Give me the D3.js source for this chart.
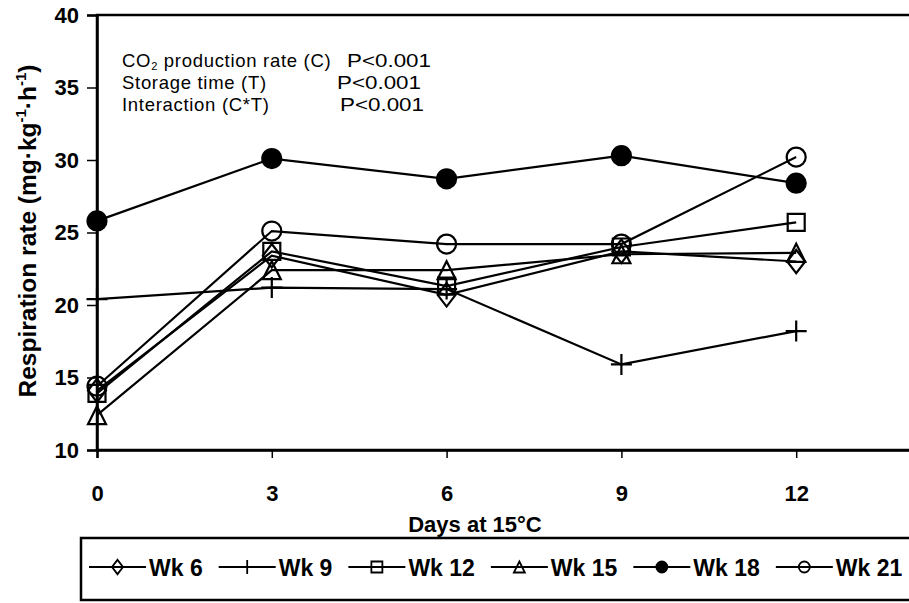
<!DOCTYPE html>
<html>
<head>
<meta charset="utf-8">
<script src="https://cdn.jsdelivr.net/npm/d3@7"></script>
<style>
  body { margin: 0; background: #fff; }
  text { font-family: "Liberation Sans", Arial, sans-serif; fill: #000; }
</style>
</head>
<body>
<svg id="chart" width="909" height="603"></svg>
<script>
// ---------- data ----------
var days = [0, 3, 6, 9, 12];
var yTicks = [10, 15, 20, 25, 30, 35, 40];

var wk6  = [14.1, 23.4, 20.7, 23.7, 23.0];
var wk9  = [20.4, 21.2, 21.1, 15.9, 18.2];
var wk12 = [13.9, 23.7, 21.3, 24.0, 25.7];
var wk15 = [12.4, 22.4, 22.4, 23.5, 23.6];
var wk18 = [25.8, 30.1, 28.7, 30.3, 28.4];
var wk21 = [14.4, 25.1, 24.2, 24.2, 30.2];

var seriesNames = ["Wk 6", "Wk 9", "Wk 12", "Wk 15", "Wk 18", "Wk 21"];
var seriesMarkers = ["diamond", "plus", "square", "triangle", "dot", "circle"];
var seriesValues = [wk6, wk9, wk12, wk15, wk18, wk21];

var statsLabels = ["Storage time (T)", "Interaction (C*T)"];
var statsP = ["P<0.001", "P<0.001", "P<0.001"];

// ---------- layout ----------
var svg = d3.select("#chart");
var x = d3.scaleLinear().domain([0, 15]).range([97, 971]);
var y = d3.scaleLinear().domain([10, 40]).range([450, 15]);

//-------------------marker shapes----------------------------------------
function markerPath(kind, s) {
    if (kind == "diamond") return "M0," + (-s * 1.3) + " L" + s + ",0 L0," + (s * 1.3) + " L" + (-s) + ",0 Z";
    if (kind == "plus") return "M" + (-s) + ",0 H" + s + " M0," + (-s) + " V" + s;
    if (kind == "square") return "M" + (-s) + "," + (-s) + " H" + s + " V" + s + " H" + (-s) + " Z";
    if (kind == "triangle") return "M0," + (-s) + " L" + s + "," + s + " L" + (-s) + "," + s + " Z";
    // circle / dot
    return "M" + s + ",0 A" + s + "," + s + " 0 1 1 " + (-s) + ",0 A" + s + "," + s + " 0 1 1 " + s + ",0 Z";
}
var markerSize = { diamond: 9, plus: 10.5, square: 8.5, triangle: 9, dot: 9.5, circle: 9.5 };

// frame
svg.append("rect")
    .attr("x", x(0)).attr("y", y(40))
    .attr("width", x(15) - x(0)).attr("height", y(10) - y(40))
    .attr("fill", "none").attr("stroke", "#000").attr("stroke-width", 2.5);

// axes
var yAxis = svg.append("g")
    .attr("transform", "translate(" + x(0) + ",0)")
    .call(d3.axisLeft(y).tickValues(yTicks).tickSize(10).tickPadding(8).tickFormat(d3.format("d")));
var xAxis = svg.append("g")
    .attr("transform", "translate(0," + y(10) + ")")
    .call(d3.axisBottom(x).tickValues(days).tickSize(8).tickPadding(27).tickFormat(d3.format("d")));

[yAxis, xAxis].forEach(function(g) {
    g.select(".domain").attr("stroke-width", 2.5);
    g.selectAll(".tick line").attr("stroke-width", 1.5);
    g.selectAll(".tick text")
        .attr("font-family", "Liberation Sans, Arial, sans-serif")
        .attr("font-size", 22).attr("font-weight", "bold");
});

// axis titles
svg.append("text")
    .attr("x", 475).attr("y", 532)
    .attr("text-anchor", "middle")
    .attr("font-size", 22).attr("font-weight", "bold")
    .text("Days at 15°C");

var yTitle = svg.append("text")
    .attr("transform", "translate(36,231) rotate(-90)")
    .attr("text-anchor", "middle")
    .attr("font-size", 24.5).attr("font-weight", "bold");
yTitle.append("tspan").text("Respiration rate (mg·kg");
yTitle.append("tspan").attr("dy", -10).attr("font-size", 15).text("-1");
yTitle.append("tspan").attr("dy", 10).text("·h");
yTitle.append("tspan").attr("dy", -10).attr("font-size", 15).text("-1");
yTitle.append("tspan").attr("dy", 10).text(")");

// stats annotation
var rowGap = 22, top0 = 67, pX = [347, 337, 340];
var note = svg.append("g").attr("font-size", 18.5);
var line1 = note.append("text").attr("x", 122).attr("y", top0).attr("letter-spacing", 0.7);
line1.append("tspan").text("CO");
line1.append("tspan").attr("dy", 2.5).attr("font-size", 11).text("2");
line1.append("tspan").attr("dy", -2.5).text(" production rate (C)");
statsLabels.forEach(function(t, i) {
    note.append("text").attr("x", 122).attr("y", top0 + (i + 1) * rowGap)
        .attr("letter-spacing", 0.7).text(t);
});
statsP.forEach(function(t, i) {
    note.append("text").attr("x", pX[i]).attr("y", top0 + i * rowGap)
        .attr("textLength", 84).attr("lengthAdjust", "spacingAndGlyphs").text(t);
});

// series
var line = d3.line()
    .x(function(d, i) { return x(days[i]); })
    .y(function(d) { return y(d); });

seriesValues.forEach(function(vals, k) {
    var kind = seriesMarkers[k];
    svg.append("path")
        .attr("d", line(vals))
        .attr("fill", "none").attr("stroke", "#000").attr("stroke-width", 2.2);
    svg.selectAll(".m" + k)
        .data(vals)
        .enter().append("path")
        .attr("class", "m" + k)
        .attr("transform", function(d, i) { return "translate(" + x(days[i]) + "," + y(d) + ")"; })
        .attr("d", markerPath(kind, markerSize[kind]))
        .attr("fill", kind == "dot" ? "#000" : "none")
        .attr("stroke", "#000").attr("stroke-width", 2.2);
});

//-------------------legend----------------------------------------
svg.append("rect")
    .attr("x", 81).attr("y", 538).attr("width", 900).attr("height", 62)
    .attr("fill", "none").attr("stroke", "#000").attr("stroke-width", 2.5);

var lx = 89, ly = 567;
seriesNames.forEach(function(name, k) {
    var kind = seriesMarkers[k];
    var g = svg.append("g").attr("transform", "translate(" + lx + "," + ly + ")");
    g.append("line").attr("x1", 0).attr("x2", 57).attr("stroke", "#000").attr("stroke-width", 2.2);
    g.append("path")
        .attr("transform", "translate(28.5,0)")
        .attr("d", markerPath(kind, kind == "plus" ? 7 : 5.5))
        .attr("fill", kind == "dot" ? "#000" : "none")
        .attr("stroke", "#000").attr("stroke-width", 1.8);
    var t = g.append("text")
        .attr("x", 60).attr("y", 8.5)
        .attr("font-size", 23).attr("font-weight", "bold")
        .text(name);
    lx += 60 + t.node().getComputedTextLength() + 16;
});
</script>
</body>
</html>
